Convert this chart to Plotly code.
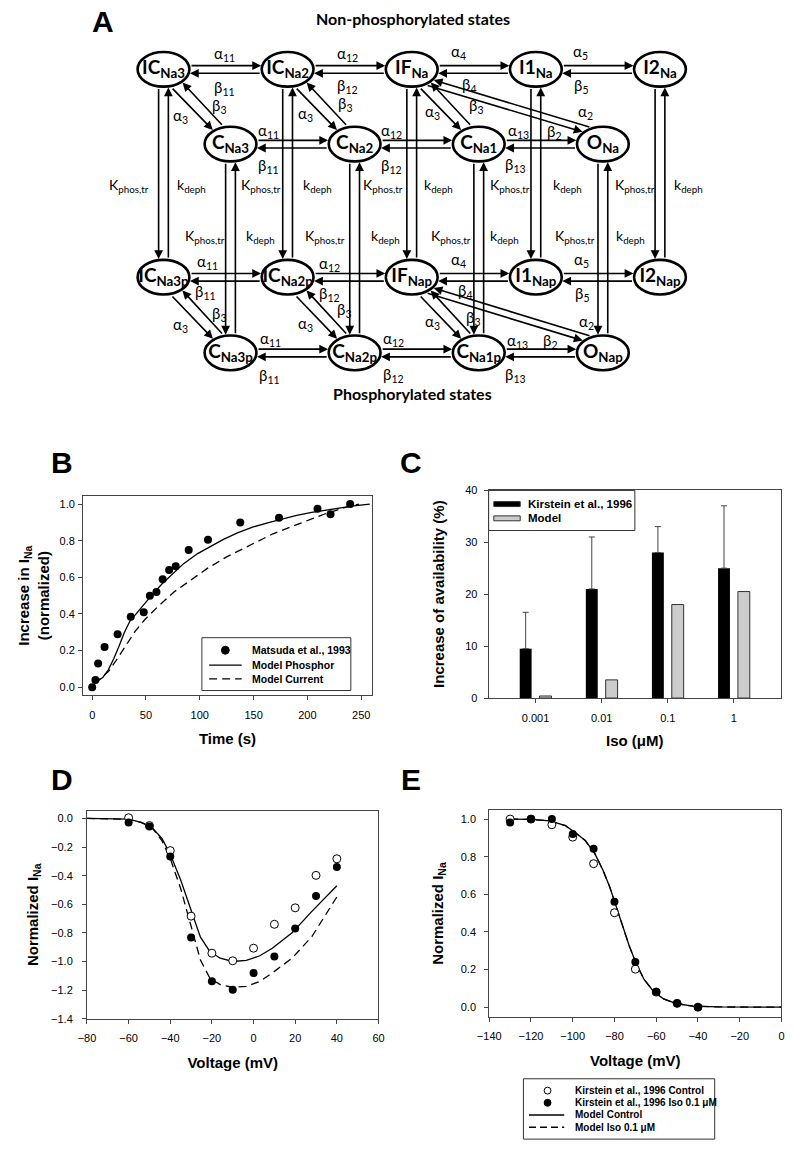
import math
import plotly.graph_objects as go

W, H = 794, 1158

# ---------------- data ----------------
# Panel B: Matsuda et al., 1993 data and model curves
B_TIME = [0, 3, 5.5, 11.5, 23.6, 35.8, 47.9, 53.6, 59.7, 65.5, 71.5, 77.6, 89.7, 107.6, 137.6, 173.6, 209.4, 221.5, 239.7]
B_INC = [0.0, 0.04, 0.13, 0.22, 0.29, 0.385, 0.41, 0.50, 0.52, 0.59, 0.64, 0.66, 0.75, 0.805, 0.90, 0.925, 0.975, 0.945, 1.0]
B_PHOS_T = [2, 5, 10, 15, 20, 25, 30, 35, 40, 46, 55, 65, 75, 85, 98, 110, 122, 135, 149, 163, 177, 190, 204, 216, 228, 243, 258]
B_PHOS = [0.02, 0.035, 0.055, 0.095, 0.155, 0.225, 0.30, 0.36, 0.395, 0.44, 0.50, 0.565, 0.62, 0.675, 0.73, 0.77,
          0.807, 0.843, 0.874, 0.898, 0.919, 0.938, 0.955, 0.967, 0.978, 0.99, 1.0]
B_CURR_T = [2, 5, 10, 15, 22, 31, 40, 49, 61, 76, 92, 107, 125, 143, 168, 192, 216, 240, 248]
B_CURR = [0.02, 0.035, 0.055, 0.085, 0.144, 0.225, 0.306, 0.37, 0.44, 0.52, 0.585, 0.649, 0.712, 0.766, 0.838,
          0.892, 0.946, 0.99, 1.0]

# Panel C: increase of availability
ISO = ["0.001", "0.01", "0.1", "1"]
C_KIRSTEIN = [9.5, 21, 28, 25]
C_KIRSTEIN_ERR = [7, 10, 5, 12]
C_MODEL = [0.4, 3.5, 18, 20.5]

# Panel D: I-V relation
D_V = [-60, -50, -40, -30, -20, -10, 0, 10, 20, 30, 40]
D_CTRL = [0.005, -0.05, -0.225, -0.683, -0.942, -0.995, -0.907, -0.74, -0.625, -0.398, -0.282]
D_ISO = [-0.028, -0.056, -0.266, -0.833, -1.139, -1.197, -1.081, -0.965, -0.769, -0.542, -0.340]
D_MODEL_V = [-80, -70, -60, -54, -49, -44, -40, -35, -30, -25.5, -21, -16, -10, -3.5, 3, 9, 18.5, 28, 40]
D_MODEL_CTRL = [0, 0, -0.005, -0.028, -0.06, -0.14, -0.25, -0.43, -0.64, -0.83, -0.93, -0.977, -1.0, -0.993,
                -0.96, -0.907, -0.80, -0.65, -0.47]
D_MODEL_ISO = [0, 0, -0.005, -0.028, -0.06, -0.155, -0.28, -0.49, -0.745, -0.99, -1.116, -1.162, -1.18, -1.174,
               -1.139, -1.08, -0.977, -0.826, -0.549]

# Panel E: steady-state inactivation
E_V = [-130, -120, -110, -100, -90, -80, -70, -60, -50, -40]
E_CTRL = [1.0, 1.0, 0.97, 0.904, 0.763, 0.502, 0.202, 0.08, 0.02, 0.0]
E_ISO = [0.982, 1.0, 1.0, 0.921, 0.842, 0.561, 0.240, 0.082, 0.021, 0.0]
E_MODEL_V = [-130, -120, -111, -103.5, -99, -94, -89.4, -85.5, -82.3, -79.2, -76, -72.9, -69.8, -65.9, -61.2,
             -56.5, -50, -42.4, -30, -15, 0]
E_MODEL_CTRL = [1.0, 0.998, 0.991, 0.965, 0.93, 0.886, 0.816, 0.728, 0.64, 0.535, 0.43, 0.325, 0.237, 0.149, 0.082,
                0.044, 0.018, 0.005, 0.001, 0.0, 0.0]
E_MODEL_ISO = [1.0, 0.998, 0.991, 0.965, 0.93, 0.886, 0.816, 0.728, 0.64, 0.535, 0.43, 0.325, 0.237, 0.149, 0.082,
               0.044, 0.018, 0.005, 0.001, 0.0, 0.0]

# Panel A: Markov states (name: main label, subscript, column, row)
STATES = {
    "IC3": ("IC", "Na3", 0, 0), "IC2": ("IC", "Na2", 1, 0), "IF": ("IF", "Na", 2, 0),
    "I1": ("I1", "Na", 3, 0), "I2": ("I2", "Na", 4, 0),
    "C3": ("C", "Na3", 0.54, 1), "C2": ("C", "Na2", 1.54, 1), "C1": ("C", "Na1", 2.54, 1), "O": ("O", "Na", 3.54, 1),
}
H_TOP = [("IC3", "IC2"), ("IC2", "IF"), ("IF", "I1"), ("I1", "I2")]
H_C = [("C3", "C2"), ("C2", "C1"), ("C1", "O")]
DIAG = [("IC3", "C3"), ("IC2", "C2"), ("IF", "C1")]

# ---------------- helpers ----------------
FONT = "Liberation Sans, Arial, sans-serif"
DFONT = "Lato, Noto Sans, sans-serif"


def PX(x):
    return x / W


def PY(y):
    return 1 - y / H


def dom_x(a, b):
    return [PX(a), PX(b)]


def dom_y(top, bottom):
    return [PY(bottom), PY(top)]


def axis(**kw):
    base = dict(showline=True, linecolor="#444", linewidth=1, mirror=True, ticks="outside", ticklen=4,
                tickcolor="#444", tickfont=dict(family=FONT, size=11, color="black"), showgrid=False,
                zeroline=False, fixedrange=True)
    base.update(kw)
    return base


def atitle(text, standoff):
    return dict(text=text, font=dict(family=FONT, size=15, color="black", weight="bold"), standoff=standoff)


fig = go.Figure()
shapes = []
annotations = []

# ---------------- Panel B ----------------
fig.add_trace(go.Scatter(x=B_PHOS_T, y=B_PHOS, mode="lines", name="Model Phosphor",
                         line=dict(color="black", width=1.3), xaxis="x", yaxis="y"))
fig.add_trace(go.Scatter(x=B_CURR_T, y=B_CURR, mode="lines", name="Model Current",
                         line=dict(color="black", width=1.3, dash="8px,5px"), xaxis="x", yaxis="y"))
fig.add_trace(go.Scatter(x=B_TIME, y=B_INC, mode="markers", name="Matsuda et al., 1993",
                         marker=dict(color="black", size=8), xaxis="x", yaxis="y"))

# ---------------- Panel C ----------------
fig.add_trace(go.Bar(x=ISO, y=C_KIRSTEIN, name="Kirstein et al., 1996", marker=dict(color="black", line=dict(width=0)),
                     error_y=dict(type="data", array=C_KIRSTEIN_ERR, arrayminus=[0] * len(ISO), symmetric=False,
                                  color="#444", thickness=1, width=3),
                     xaxis="x2", yaxis="y2"))
fig.add_trace(go.Bar(x=ISO, y=C_MODEL, name="Model", marker=dict(color="#cccccc", line=dict(color="#333", width=1)),
                     xaxis="x2", yaxis="y2"))

# ---------------- Panel D ----------------
fig.add_trace(go.Scatter(x=D_MODEL_V, y=D_MODEL_CTRL, mode="lines", name="Model Control",
                         line=dict(color="black", width=1.3), xaxis="x3", yaxis="y3"))
fig.add_trace(go.Scatter(x=D_MODEL_V, y=D_MODEL_ISO, mode="lines", name="Model Iso 0.1 \u03bcM",
                         line=dict(color="black", width=1.3, dash="8px,5px"), xaxis="x3", yaxis="y3"))
fig.add_trace(go.Scatter(x=D_V, y=D_CTRL, mode="markers", name="Kirstein et al., 1996 Control",
                         marker=dict(color="white", size=8, line=dict(color="black", width=1)),
                         xaxis="x3", yaxis="y3"))
fig.add_trace(go.Scatter(x=D_V, y=D_ISO, mode="markers", name="Kirstein et al., 1996 Iso 0.1 \u03bcM",
                         marker=dict(color="black", size=8), xaxis="x3", yaxis="y3"))

# ---------------- Panel E ----------------
fig.add_trace(go.Scatter(x=E_MODEL_V, y=E_MODEL_CTRL, mode="lines", name="Model Control",
                         line=dict(color="black", width=1.3), xaxis="x4", yaxis="y4"))
fig.add_trace(go.Scatter(x=E_MODEL_V, y=E_MODEL_ISO, mode="lines", name="Model Iso 0.1 \u03bcM",
                         line=dict(color="black", width=1.3, dash="8px,5px"), xaxis="x4", yaxis="y4"))
fig.add_trace(go.Scatter(x=E_V, y=E_CTRL, mode="markers", name="Kirstein et al., 1996 Control",
                         marker=dict(color="white", size=8, line=dict(color="black", width=1)),
                         xaxis="x4", yaxis="y4"))
fig.add_trace(go.Scatter(x=E_V, y=E_ISO, mode="markers", name="Kirstein et al., 1996 Iso 0.1 \u03bcM",
                         marker=dict(color="black", size=8), xaxis="x4", yaxis="y4"))


# ---------------- legends (drawn as boxed keys) ----------------
def legend_box(x0, y0, x1, y1):
    shapes.append(dict(type="rect", xref="paper", yref="paper", x0=PX(x0), x1=PX(x1), y0=PY(y1), y1=PY(y0),
                       line=dict(color="#333", width=1), fillcolor="white", layer="above"))


def legend_text(x, y, text, size):
    annotations.append(dict(x=PX(x), y=PY(y), xref="paper", yref="paper", xanchor="left", yanchor="middle",
                            text=text, showarrow=False,
                            font=dict(family=FONT, size=size, color="black", weight="bold")))


def key_line(x0, x1, y, dash="solid"):
    shapes.append(dict(type="line", xref="paper", yref="paper", x0=PX(x0), x1=PX(x1), y0=PY(y), y1=PY(y),
                       line=dict(color="black", width=1.3, dash=dash), layer="above"))


def key_dot(x, y, r, filled):
    shapes.append(dict(type="circle", xref="paper", yref="paper", x0=PX(x - r), x1=PX(x + r), y0=PY(y + r),
                       y1=PY(y - r), line=dict(color="black", width=1),
                       fillcolor="black" if filled else "white", layer="above"))


def key_bar(x0, x1, y, h, color):
    shapes.append(dict(type="rect", xref="paper", yref="paper", x0=PX(x0), x1=PX(x1), y0=PY(y + h / 2),
                       y1=PY(y - h / 2), line=dict(color="#333", width=1), fillcolor=color, layer="above"))


# legend of panel B
legend_box(194.3, 638.3, 346.7, 691.7)
key_dot(218.3, 651, 4, True)
legend_text(244, 651, "Matsuda et al., 1993", 10.5)
key_line(201.7, 235, 666)
legend_text(244, 666, "Model Phosphor", 10.5)
key_line(201.7, 235, 680, "8px,5px")
legend_text(244, 680, "Model Current", 10.5)

# legend of panel C
legend_box(487.7, 489.5, 637.3, 530)
key_bar(493, 520, 503.3, 5, "black")
legend_text(526, 503.3, "Kirstein et al., 1996", 11.5)
key_bar(493, 520, 517.7, 5, "#cccccc")
legend_text(526, 517.7, "Model", 11.5)

# legend shared by panels D and E
legend_box(523.3, 1084, 719, 1145)
key_dot(548, 1096, 3.5, False)
legend_text(574, 1096, "Kirstein et al., 1996 Control", 10)
key_dot(548, 1108.3, 3.5, True)
legend_text(574, 1108.3, "Kirstein et al., 1996 Iso 0.1 \u03bcM", 10)
key_line(529, 565, 1120.6)
legend_text(574, 1120.6, "Model Control", 10)
key_line(529, 565, 1133, "7px,4px")
legend_text(574, 1133, "Model Iso 0.1 \u03bcM", 10)

# ---------------- Panel A: state diagram ----------------
COL0, COLSTEP = 155.0, 127.0
ROWS_Y = [64.0, 139.5, 274.0, 350.5]
RX, RY = 26.5, 17.5

pos = {}
labels = {}
for name, (main, sub, col, row) in STATES.items():
    for sfx, drow, psub in (("", 0, ""), ("p", 2, "p")):
        pos[name + sfx] = (COL0 + COLSTEP * col, ROWS_Y[row + drow])
        labels[name + sfx] = "<b>%s<sub>%s%s</sub></b>" % (main, sub, psub)

node_names = list(pos.keys())
fig.add_trace(go.Scatter(x=[pos[n][0] for n in node_names], y=[pos[n][1] for n in node_names],
                         text=[labels[n] for n in node_names], mode="text", showlegend=False, hoverinfo="skip",
                         textfont=dict(family=DFONT, size=19, color="black"), xaxis="x5", yaxis="y5"))

for n in node_names:
    cx, cy = pos[n]
    shapes.append(dict(type="circle", xref="x5", yref="y5", x0=cx - RX, x1=cx + RX, y0=cy - RY, y1=cy + RY,
                       line=dict(color="black", width=2.6), fillcolor="white", layer="below"))


def ell_t(p, v, c, larger):
    rx, ry = RX + 1.2, RY + 1.2
    qx, qy = p[0] - c[0], p[1] - c[1]
    a = (v[0] / rx) ** 2 + (v[1] / ry) ** 2
    b = 2 * (qx * v[0] / rx ** 2 + qy * v[1] / ry ** 2)
    cc = (qx / rx) ** 2 + (qy / ry) ** 2 - 1
    disc = b * b - 4 * a * cc
    if disc < 0:
        return None
    s = math.sqrt(disc)
    return (-b + s) / (2 * a) if larger else (-b - s) / (2 * a)


def edge_points(A, B, oa, ob):
    ux, uy = B[0] - A[0], B[1] - A[1]
    L = math.hypot(ux, uy)
    ux, uy = ux / L, uy / L
    nx, ny = -uy, ux
    p0 = (A[0] + nx * oa, A[1] + ny * oa)
    p1 = (B[0] + nx * ob, B[1] + ny * ob)
    v = (p1[0] - p0[0], p1[1] - p0[1])
    t0 = ell_t(p0, v, A, True)
    t1 = ell_t(p0, v, B, False)
    t0 = 0.0 if t0 is None else t0
    t1 = 1.0 if t1 is None else t1
    return (p0[0] + t0 * v[0], p0[1] + t0 * v[1]), (p0[0] + t1 * v[0], p0[1] + t1 * v[1])


edges = []
for s in ("", "p"):
    for a, b in H_TOP + H_C:
        edges.append((a + s, b + s, -3.75, -3.75, "B"))
        edges.append((a + s, b + s, 4.0, 4.0, "A"))
    for a, b in DIAG:
        edges.append((a + s, b + s, 7.0, 3.0, "B"))
        edges.append((a + s, b + s, -5.0, -7.0, "A"))
    edges.append(("IF" + s, "O" + s, 11.0, -6.0, "B"))
    edges.append(("IF" + s, "O" + s, 4.0, -12.6, "A"))
for n in STATES:
    edges.append((n, n + "p", 5.0, 5.0, "B"))
    edges.append((n, n + "p", -5.0, -5.0, "A"))

for a, b, oa, ob, head in edges:
    pa, pb = edge_points(pos[a], pos[b], oa, ob)
    tail, tip = (pa, pb) if head == "B" else (pb, pa)
    annotations.append(dict(x=tip[0], y=tip[1], ax=tail[0], ay=tail[1], xref="x5", yref="y5", axref="x5",
                            ayref="y5", text="", showarrow=True, arrowhead=2, arrowsize=1.1, arrowwidth=1.6,
                            arrowcolor="black", standoff=0, startstandoff=0))

RATE_LABELS = [
    ("\u03b1", "11", 217, 49), ("\u03b2", "11", 217, 83), ("\u03b1", "12", 343, 49), ("\u03b2", "12", 343, 81),
    ("\u03b1", "4", 457, 46), ("\u03b2", "4", 468, 80), ("\u03b1", "5", 582, 46), ("\u03b2", "5", 582, 81),
    ("\u03b1", "3", 172, 111), ("\u03b2", "3", 212, 101), ("\u03b1", "3", 300, 109), ("\u03b2", "3", 341, 99),
    ("\u03b1", "3", 430, 107), ("\u03b2", "3", 475, 101),
    ("\u03b1", "11", 262, 126), ("\u03b2", "11", 262, 162), ("\u03b1", "12", 388, 126), ("\u03b2", "12", 388, 162),
    ("\u03b1", "13", 518, 126), ("\u03b2", "13", 515, 161), ("\u03b2", "2", 555, 127), ("\u03b1", "2", 587, 107),
    ("\u03b1", "11", 200, 259), ("\u03b2", "11", 198, 289), ("\u03b1", "12", 325, 261), ("\u03b2", "12", 325, 291),
    ("\u03b1", "4", 457, 257), ("\u03b2", "4", 463, 288), ("\u03b1", "5", 583, 257), ("\u03b2", "5", 583, 291),
    ("\u03b1", "3", 172, 322), ("\u03b2", "3", 212, 311), ("\u03b1", "3", 300, 321), ("\u03b2", "3", 340, 307),
    ("\u03b1", "3", 430, 319), ("\u03b2", "3", 472, 315),
    ("\u03b1", "11", 265, 336), ("\u03b2", "11", 263, 374), ("\u03b1", "12", 390, 336), ("\u03b2", "12", 390, 373),
    ("\u03b1", "13", 517, 338), ("\u03b2", "13", 515, 373), ("\u03b2", "2", 550, 338), ("\u03b1", "2", 588, 319),
]
for g, sub, x, y in RATE_LABELS:
    annotations.append(dict(x=x, y=y, xref="x5", yref="y5", text="%s<sub>%s</sub>" % (g, sub), showarrow=False,
                            font=dict(family=DFONT, size=15, color="black")))

K_LABELS = [(x, 181, "K<sub>phos,tr</sub>") for x in (120, 255, 380, 510, 637)] + \
           [(x, 181, "k<sub>deph</sub>") for x in (184, 313, 436, 568, 692)] + \
           [(x, 233, "K<sub>phos,tr</sub>") for x in (197, 320, 449, 576)] + \
           [(x, 233, "k<sub>deph</sub>") for x in (254, 382, 504, 633)]
for x, y, t in K_LABELS:
    annotations.append(dict(x=x, y=y, xref="x5", yref="y5", text=t, showarrow=False,
                            font=dict(family=DFONT, size=14, color="black")))

annotations.append(dict(x=410, y=13, xref="x5", yref="y5", text="<b>Non-phosphorylated states</b>",
                        showarrow=False, font=dict(family=DFONT, size=16, color="black")))
annotations.append(dict(x=410, y=392, xref="x5", yref="y5", text="<b>Phosphorylated states</b>",
                        showarrow=False, font=dict(family=DFONT, size=16, color="black")))

# panel letters
for letter, x, y in (("A", 93, 16), ("B", 51, 461), ("C", 408, 461), ("D", 51, 782), ("E", 408, 782)):
    annotations.append(dict(x=PX(x), y=PY(y), xref="paper", yref="paper", xanchor="center", yanchor="middle",
                            text="<b>%s</b>" % letter, showarrow=False,
                            font=dict(family=FONT, size=30, color="black")))

fig.update_layout(
    width=W, height=H, margin=dict(l=0, r=0, t=0, b=0), paper_bgcolor="white", plot_bgcolor="white",
    showlegend=False, barmode="group", bargap=0.4, bargroupgap=0.4,
    xaxis=axis(domain=dom_x(72.7, 368.3), range=[-8.5, 260], tickvals=[0, 50, 100, 150, 200, 250],
               ticklabelstandoff=5, title=atitle("Time (s)", 13), anchor="y"),
    yaxis=axis(domain=dom_y(495, 696.7), range=[-0.045, 1.045], tickvals=[0, 0.2, 0.4, 0.6, 0.8, 1.0],
               tickformat=".1f", ticklabelstandoff=1,
               title=atitle("Increase in I<sub>Na</sub><br>(normalized)", 6), anchor="x"),
    xaxis2=axis(domain=dom_x(487.7, 786.7), type="category", range=[-0.71, 3.71], ticklabelstandoff=6,
                title=atitle("Iso (\u03bcM)", 12), anchor="y2"),
    yaxis2=axis(domain=dom_y(489.3, 699.3), range=[0, 40], tickvals=[0, 10, 20, 30, 40], ticklabelstandoff=4,
                title=atitle("Increase of availability (%)", 16), anchor="x2"),
    xaxis3=axis(domain=dom_x(76.7, 375), range=[-80, 60], tickvals=list(range(-80, 61, 20)), ticklabelstandoff=5,
                title=atitle("Voltage (mV)", 14), anchor="y3"),
    yaxis3=axis(domain=dom_y(813.3, 1023.3), range=[-1.4, 0.053],
                tickvals=[-1.4, -1.2, -1.0, -0.8, -0.6, -0.4, -0.2, 0.0], ticklabelstandoff=7,
                tickformat=".1f", title=atitle("Normalized I<sub>Na</sub>", 8), anchor="x3"),
    xaxis4=axis(domain=dom_x(488.3, 787.3), range=[-140, 0], tickvals=list(range(-140, 1, 20)), ticklabelstandoff=5,
                title=atitle("Voltage (mV)", 14), anchor="y4"),
    yaxis4=axis(domain=dom_y(812.3, 1021.7), range=[-0.053, 1.049], tickvals=[0, 0.2, 0.4, 0.6, 0.8, 1.0],
                tickformat=".1f", ticklabelstandoff=6, title=atitle("Normalized I<sub>Na</sub>", 13), anchor="x4"),
    xaxis5=dict(domain=[0, 1], range=[0, W], visible=False, fixedrange=True, anchor="y5"),
    yaxis5=dict(domain=[PY(420), 1], range=[420, 0], visible=False, fixedrange=True, anchor="x5"),
    shapes=shapes,
    annotations=annotations,
)

fig.write_html("out.html", config={"displayModeBar": False},
               post_script="document.body.style.margin='0px';document.body.style.overflow='hidden';")
